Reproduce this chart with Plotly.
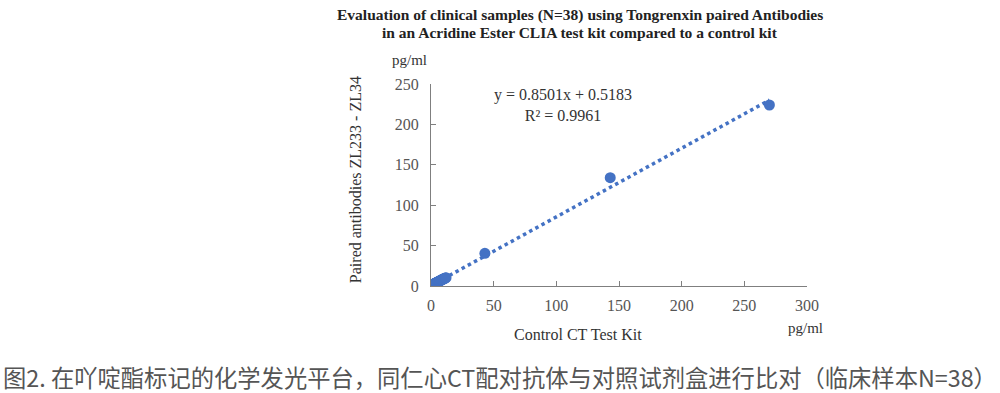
import plotly.graph_objects as go

# Data (control kit vs paired antibodies), pg/ml
control_x = [0.3, 0.6, 0.8, 1.0, 1.2, 1.5, 1.7, 2.0, 2.2, 2.5, 2.8, 3.0, 3.3, 3.6, 3.9,
             4.2, 4.5, 4.8, 5.1, 5.5, 5.8, 6.2, 6.5, 6.9, 7.2, 7.6, 8.0, 8.4, 8.8, 9.2,
             9.7, 10.2, 10.8, 11.5, 12.0, 43.0, 143.0, 270.0]
paired_y = [0.4, 0.7, 1.0, 1.2, 1.3, 1.7, 1.9, 2.1, 2.4, 2.6, 2.9, 3.1, 3.4, 3.6, 3.8,
            4.1, 4.3, 4.6, 4.9, 5.1, 5.4, 5.7, 6.0, 6.3, 6.5, 6.9, 7.2, 7.5, 7.9, 8.2,
            8.6, 8.9, 9.4, 9.9, 10.3, 40.5, 134.0, 224.0]
slope = 0.8501
intercept = 0.5183
trend_x = [0, 270]
trend_y = [intercept + slope * v for v in trend_x]

x_ticks = [0, 50, 100, 150, 200, 250, 300]
y_ticks = [0, 50, 100, 150, 200, 250]

title_lines = ["Evaluation of clinical samples (N=38) using Tongrenxin paired Antibodies",
               "in an Acridine Ester CLIA test kit compared to a control kit"]
caption = "图2. 在吖啶酯标记的化学发光平台，同仁心CT配对抗体与对照试剂盒进行比对（临床样本N=38）"

blue = "#4472C4"
serif = "Liberation Serif"
tick_col = "#555555"

fig = go.Figure()
fig.add_trace(go.Scatter(x=trend_x, y=trend_y, mode="lines",
                         line=dict(color=blue, width=3.5, dash="dot"),
                         hoverinfo="skip", showlegend=False))
fig.add_trace(go.Scatter(x=control_x, y=paired_y, mode="markers",
                         marker=dict(color=blue, size=11),
                         showlegend=False))

def ann(text, x, y, size, **kw):
    d = dict(text=text, xref="paper", yref="paper", x=x, y=y, showarrow=False,
             xanchor="center", yanchor="middle",
             font=dict(family=kw.pop("family", serif), size=size, color=kw.pop("color", "#333")))
    d.update(kw)
    return d

# plot area: x 431..807 px, y 84..286 px  (paper y = (286 - py) / 202)
fig.update_layout(
    width=1000, height=393,
    margin=dict(l=431, r=193, t=84, b=107),
    paper_bgcolor="white", plot_bgcolor="white",
    xaxis=dict(range=[0, 300], tickvals=x_ticks, showgrid=False, zeroline=False,
               showline=True, linecolor="#7f7f7f", linewidth=1,
               ticks="inside", ticklen=5, tickcolor="#7f7f7f", ticklabelstandoff=5,
               tickfont=dict(family=serif, size=16, color=tick_col)),
    yaxis=dict(range=[0, 250], tickvals=y_ticks, showgrid=False, zeroline=False,
               showline=True, linecolor="#7f7f7f", linewidth=1,
               ticks="inside", ticklen=5, tickcolor="#7f7f7f", ticklabelstandoff=8,
               tickfont=dict(family=serif, size=16, color=tick_col)),
    annotations=[
        ann("<b>" + title_lines[0] + "</b>", 0.396, (286 - 15) / 202, 15.5, color="#222"),
        ann("<b>" + title_lines[1] + "</b>", 0.396, (286 - 32) / 202, 15.5, color="#222"),
        ann("pg/ml", -0.056, 1.119, 15),
        ann("pg/ml", 0.995, -0.208, 15),
        ann("Control CT Test Kit", 0.391, -0.238, 16),
        ann("Paired antibodies ZL233 - ZL34", -0.199, 0.525, 16, textangle=-90),
        dict(text="y = 0.8501x + 0.5183<br>R² = 0.9961", xref="x", yref="y", x=105, y=224,
             xanchor="center", yanchor="middle",
             showarrow=False, align="center", font=dict(family=serif, size=16, color="#333")),
        ann(caption, (500 - 431) / 376, (286 - 377) / 202, 23.3,
            family="Noto Sans CJK SC", color="#555555"),
    ],
)

fig.write_html("out.html", config={"displayModeBar": False},
               post_script="document.body.style.margin='0';")
